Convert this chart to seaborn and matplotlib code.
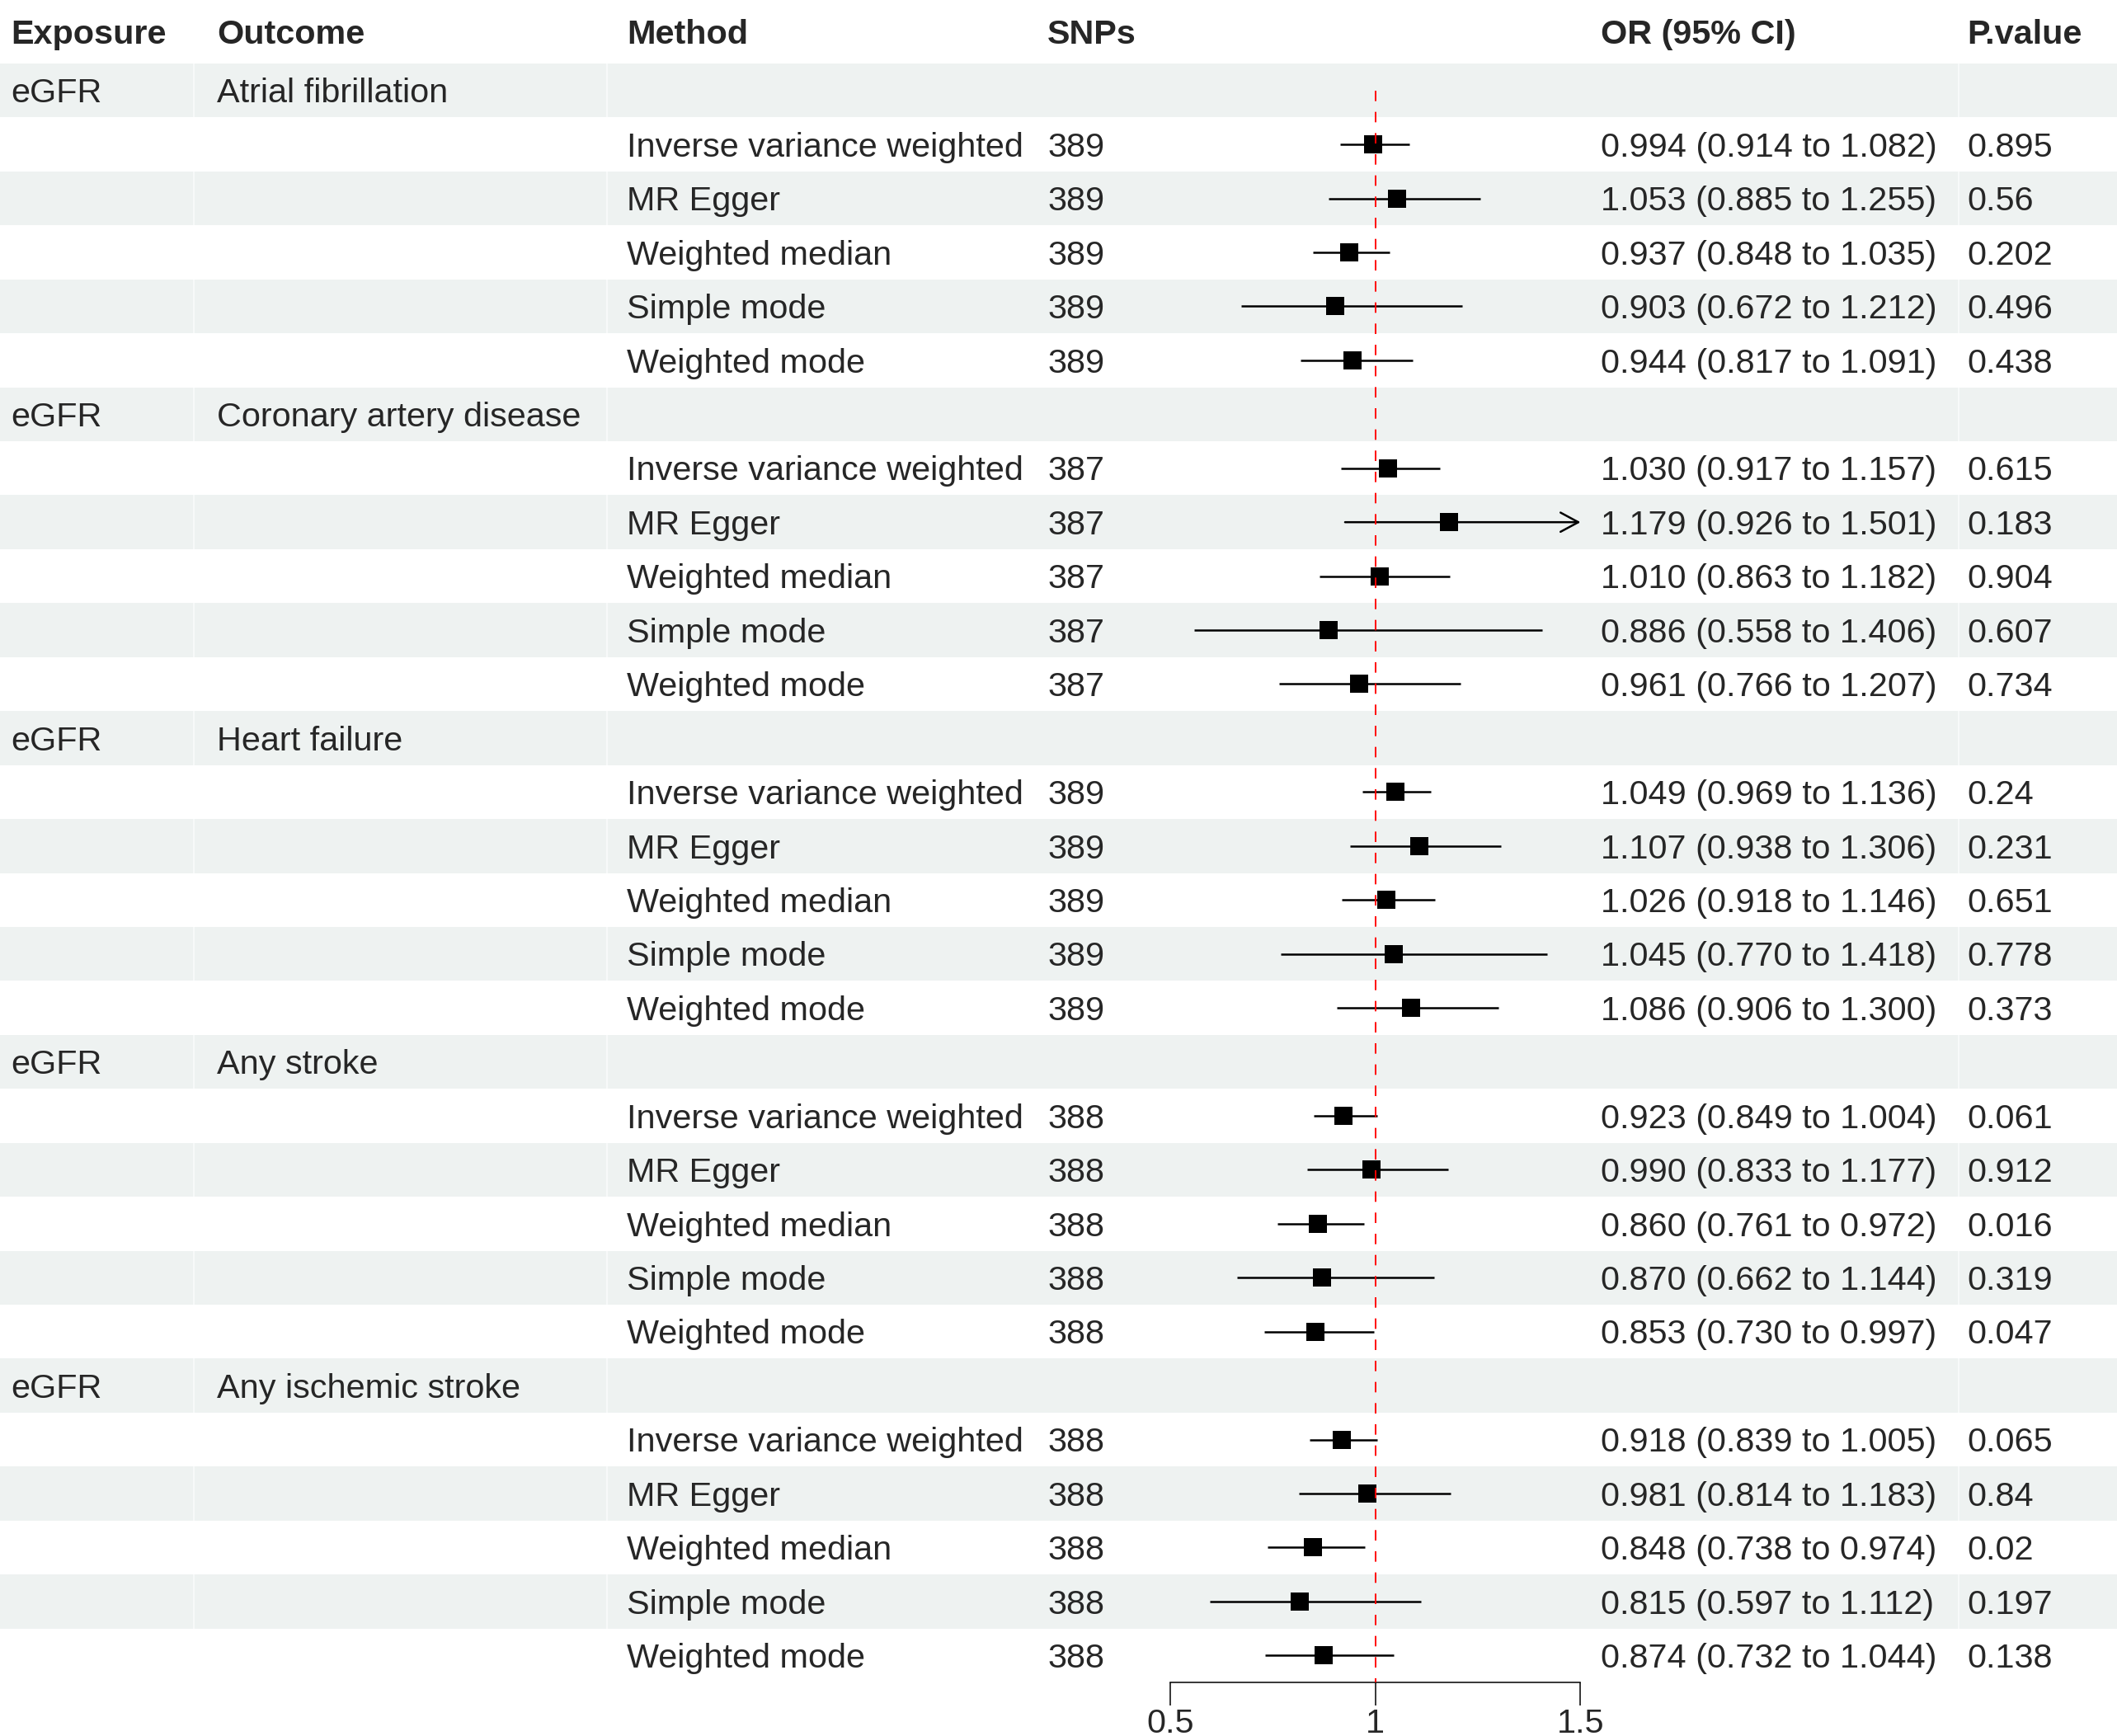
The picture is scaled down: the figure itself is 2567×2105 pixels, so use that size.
import pandas as pd
import matplotlib.pyplot as plt
import seaborn as sns

# --- dados ---
exposure = 'eGFR'
outcomes = ['Atrial fibrillation', 'Coronary artery disease', 'Heart failure',
            'Any stroke', 'Any ischemic stroke']
methods = ['Inverse variance weighted', 'MR Egger', 'Weighted median',
           'Simple mode', 'Weighted mode']
snps = [389, 387, 389, 388, 388]

or_af = [0.994, 1.053, 0.937, 0.903, 0.944]
lo_af = [0.914, 0.885, 0.848, 0.672, 0.817]
hi_af = [1.082, 1.255, 1.035, 1.212, 1.091]
p_af = ['0.895', '0.56', '0.202', '0.496', '0.438']

or_cad = [1.030, 1.179, 1.010, 0.886, 0.961]
lo_cad = [0.917, 0.926, 0.863, 0.558, 0.766]
hi_cad = [1.157, 1.501, 1.182, 1.406, 1.207]
p_cad = ['0.615', '0.183', '0.904', '0.607', '0.734']

or_hf = [1.049, 1.107, 1.026, 1.045, 1.086]
lo_hf = [0.969, 0.938, 0.918, 0.770, 0.906]
hi_hf = [1.136, 1.306, 1.146, 1.418, 1.300]
p_hf = ['0.24', '0.231', '0.651', '0.778', '0.373']

or_st = [0.923, 0.990, 0.860, 0.870, 0.853]
lo_st = [0.849, 0.833, 0.761, 0.662, 0.730]
hi_st = [1.004, 1.177, 0.972, 1.144, 0.997]
p_st = ['0.061', '0.912', '0.016', '0.319', '0.047']

or_is = [0.918, 0.981, 0.848, 0.815, 0.874]
lo_is = [0.839, 0.814, 0.738, 0.597, 0.732]
hi_is = [1.005, 1.183, 0.974, 1.112, 1.044]
p_is = ['0.065', '0.84', '0.02', '0.197', '0.138']

headers = ['Exposure', 'Outcome', 'Method', 'SNPs', 'OR (95% CI)', 'P.value']
x_ticks = [0.5, 1, 1.5]
x_ticklabels = ['0.5', '1', '1.5']

# --- monta a tabela ---
linhas = []
blocos = [(or_af, lo_af, hi_af, p_af), (or_cad, lo_cad, hi_cad, p_cad),
          (or_hf, lo_hf, hi_hf, p_hf), (or_st, lo_st, hi_st, p_st),
          (or_is, lo_is, hi_is, p_is)]
for k, (o, l, h, p) in enumerate(blocos):
    linhas.append(dict(exp=exposure, out=outcomes[k], met='', snp='',
                       OR=None, lo=None, hi=None, p=''))
    for j in range(5):
        linhas.append(dict(exp='', out='', met=methods[j], snp=str(snps[k]),
                           OR=o[j], lo=l[j], hi=h[j], p=p[j]))
df = pd.DataFrame(linhas)
df['row'] = range(len(df))
df['txt'] = [f'{a:.3f} ({b:.3f} to {c:.3f})' if pd.notna(a) else ''
             for a, b, c in zip(df['OR'], df['lo'], df['hi'])]
dados = df.dropna(subset=['OR'])

# --- layout (pixels) ---
W, H = 2567, 2105
top, bottom = 77, 2040
n = len(df)
pitch = (bottom - top) / n
def px2row(y):
    return (y - top) / pitch - 0.5

sns.set_theme(style='white')
plt.rcParams['font.family'] = ['Liberation Sans', 'DejaVu Sans']
fs = 14.9

fig = plt.figure(figsize=(W / 200, H / 200), dpi=200)
ax = fig.add_axes([0, 0, 1, 1])
ax.set_xlim(0, W)
ax.set_ylim(px2row(H), px2row(0))
ax.axis('off')

# faixas alternadas
for i in range(0, n, 2):
    ax.axhspan(i - 0.5, i + 0.5, color='#eef2f1', lw=0, zorder=0)
for gx in [235, 736, 2375]:
    ax.vlines(gx, -0.5, n - 0.5, color='white', lw=0.6, alpha=0.7, zorder=0.5)

col_x = [13, 263, 760, 1270, 1941, 2385]
hy = px2row(53)
for x, t in zip(col_x, headers):
    ax.text(x, hy, t, fontsize=fs, fontweight='bold', ha='left', va='baseline')

off = 0.225
for _, r in df.iterrows():
    y = r['row'] + off
    for x, t in zip(col_x, [r['exp'], r['out'], r['met'], r['snp'], r['txt'], r['p']]):
        if t:
            ax.text(x, y, t, fontsize=fs, ha='left', va='baseline')

# --- forest ---
fx0, fx1 = 1419, 1916.5
fa = fig.add_axes([fx0 / W, 1 - bottom / H, (fx1 - fx0) / W, (bottom - top) / H])
fa.patch.set_alpha(0)
fa.set_xlim(0.5, 1.5)
fa.set_ylim(n - 0.5, -0.5)

xmax = 1.5
for _, r in dados.iterrows():
    if r['hi'] > xmax:
        fa.annotate('', xy=(xmax, r['row']), xytext=(r['lo'], r['row']),
                    arrowprops=dict(arrowstyle='->,head_length=0.65,head_width=0.35',
                                    lw=0.9, color='black', shrinkA=0, shrinkB=0),
                    annotation_clip=False)
    else:
        fa.hlines(r['row'], r['lo'], r['hi'], color='black', lw=0.9, zorder=2)

sns.scatterplot(data=dados, x='OR', y='row', marker='s', s=68, color='black',
                linewidth=0, ax=fa, zorder=3, legend=False)

fa.vlines(1, 0, n - 0.5, color='red', lw=0.7, linestyles=(0, (6.5, 6.7)), zorder=4)

for s in ['top', 'left', 'right']:
    fa.spines[s].set_visible(False)
fa.spines['bottom'].set_linewidth(0.55)
fa.spines['bottom'].set_color('black')
fa.set_xticks(x_ticks)
fa.set_xticklabels(x_ticklabels, fontsize=fs)
fa.set_yticks([])
fa.tick_params(axis='x', direction='out', length=10, width=0.55, pad=1,
               bottom=True, color='black')
fa.set_xlabel('')
fa.set_ylabel('')

fig.savefig('out.png', dpi=200)
